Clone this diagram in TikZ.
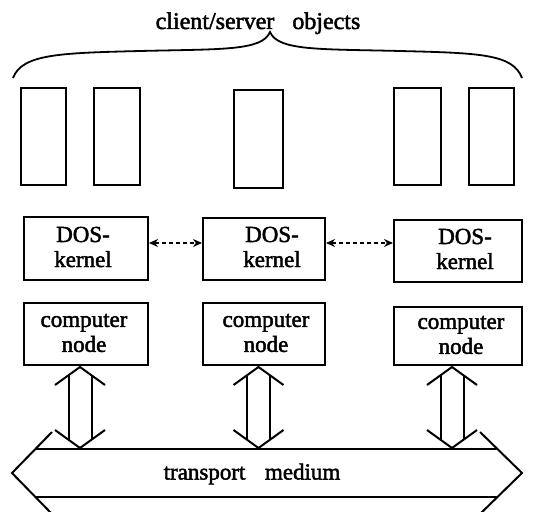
\documentclass[tikz,border=0pt]{standalone}
\usepackage{fontspec}
\setmainfont{Liberation Serif}[FakeBold=2]
\usetikzlibrary{arrows.meta}
\begin{document}
\begin{tikzpicture}[x=1pt,y=-1pt,
  line width=2pt, line join=miter,
  lbl/.style={inner sep=0pt, align=center, font=\fontsize{23}{25}\selectfont},
  objbox/.style={draw, rectangle, inner sep=0pt, line width=2pt},
  peer/.style={dashed, dash pattern=on 4pt off 3pt, line width=1.4pt,
    {Stealth[length=9pt,width=8pt]}-{Stealth[length=9pt,width=8pt]}},
  link/.style={line width=2pt}
]
\useasboundingbox (0,0) rectangle (543,511);
\clip (0,0) rectangle (543,511);

% heading and brace over the object boxes
\node[lbl, anchor=base, font=\fontsize{24}{26}\selectfont] (title) at (258,29)
  {client/server\hspace{0.5em} objects};
\coordinate (brL) at (13,78);
\coordinate (brR) at (522,78);
\coordinate (brTip) at (270,32);
\draw[line width=1.8pt] (brL) .. controls (22,54) and (60,53) .. (140,51)
   .. controls (222,49) and (262,51) .. (brTip)
   .. controls (278,51) and (320,49) .. (400,51)
   .. controls (480,53) and (513,54) .. (brR);

% client/server objects
\foreach \n/\xa/\xb/\ya/\yb in {o1/21/66/88/185, o2/94/140/88/185, o3/234/283/90/188,
                                o4/394/441/88/185, o5/469/514/88/185}
  \node[objbox, minimum width=\xb pt-\xa pt, minimum height=\yb pt-\ya pt]
    (\n) at ({(\xa+\xb)/2},{(\ya+\yb)/2}) {};

% DOS kernels
\node[objbox, minimum width=124pt, minimum height=63pt] (k1) at (86,248.5) {};
\node[objbox, minimum width=122pt, minimum height=62pt] (k2) at (264,249) {};
\node[objbox, minimum width=128pt, minimum height=62pt] (k3) at (458,251) {};
\node[lbl] (k1t) at (83,247) {DOS-\\kernel};
\node[lbl] (k2t) at (272,247) {DOS-\\kernel};
\node[lbl] (k3t) at (465,249) {DOS-\\kernel};

\draw[peer] (k1.east |- 0,243) -- (k2.west |- 0,243);
\draw[peer] (k2.east |- 0,243) -- (k3.west |- 0,243);

% computer nodes
\node[objbox, minimum width=124pt, minimum height=62pt] (c1) at (86,334) {};
\node[objbox, minimum width=122pt, minimum height=62pt] (c2) at (264,334) {};
\node[objbox, minimum width=128pt, minimum height=58pt] (c3) at (458,336) {};
\node[lbl] (c1t) at (84,333) {computer\\node};
\node[lbl] (c2t) at (266,333) {computer\\node};
\node[lbl] (c3t) at (461,335) {computer\\node};

% transport medium (horizontal double arrow)
\node[lbl] (tm) at (252,474) {transport\hspace{0.6em} medium};
\coordinate (tmL) at (12,473);
\coordinate (tmR) at (522,473);
\draw[link] (52,432) -- (tmL) -- (52,514);
\draw[link] (480,432) -- (tmR) -- (480,514);
\draw[link] (35.4,449) -- (497.4,449);
\draw[link] (35.4,497) -- (497.4,497);

% bidirectional links between computer nodes and the medium
\foreach \i/\xc in {1/80, 2/258.5, 3/452}{
  \coordinate (u\i) at (\xc,367);
  \coordinate (d\i) at (\xc,448);
  \draw[link] ([xshift=-25pt,yshift=-18pt]u\i) -- (u\i) -- ([xshift=25pt,yshift=-18pt]u\i);
  \draw[link] ([xshift=-25pt,yshift=18pt]d\i) -- (d\i) -- ([xshift=25pt,yshift=18pt]d\i);
  \draw[link] ([xshift=-11.5pt,yshift=-8.3pt]u\i) -- ([xshift=-11.5pt,yshift=8.3pt]d\i);
  \draw[link] ([xshift=11.5pt,yshift=-8.3pt]u\i) -- ([xshift=11.5pt,yshift=8.3pt]d\i);
}
\end{tikzpicture}
\end{document}
